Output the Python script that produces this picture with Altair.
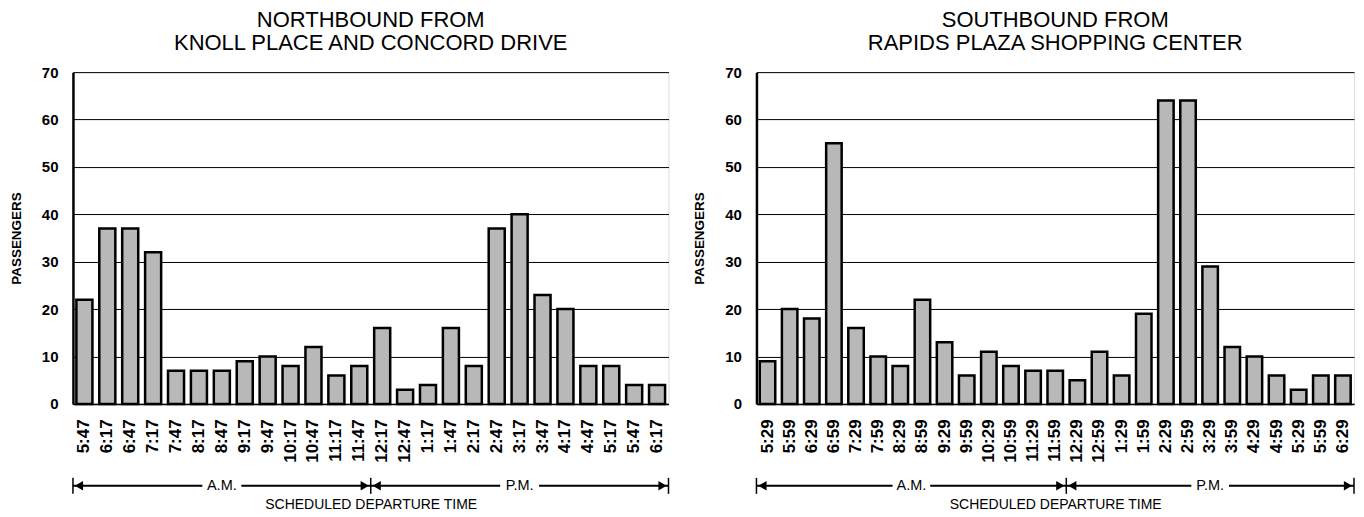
import altair as alt
import pandas as pd

# ---- data ----
north_title = ["NORTHBOUND FROM", "KNOLL PLACE AND CONCORD DRIVE"]
north_labels = ["5:47", "6:17", "6:47", "7:17", "7:47", "8:17", "8:47", "9:17", "9:47",
                "10:17", "10:47", "11:17", "11:47",
                "12:17", "12:47", "1:17", "1:47", "2:17", "2:47", "3:17", "3:47",
                "4:17", "4:47", "5:17", "5:47", "6:17"]
north_values = [22, 37, 37, 32, 7, 7, 7, 9, 10, 8, 12, 6, 8,
                16, 3, 4, 16, 8, 37, 40, 23, 20, 8, 8, 4, 4]
north_am_count = 13

south_title = ["SOUTHBOUND FROM", "RAPIDS PLAZA SHOPPING CENTER"]
south_labels = ["5:29", "5:59", "6:29", "6:59", "7:29", "7:59", "8:29", "8:59", "9:29",
                "9:59", "10:29", "10:59", "11:29", "11:59",
                "12:29", "12:59", "1:29", "1:59", "2:29", "2:59", "3:29", "3:59",
                "4:29", "4:59", "5:29", "5:59", "6:29"]
south_values = [9, 20, 18, 55, 16, 10, 8, 22, 13, 6, 11, 8, 7, 7,
                5, 11, 6, 19, 64, 64, 29, 12, 10, 6, 3, 6, 6]
south_am_count = 14

period_names = ["A.M.", "P.M."]
y_ticks = [0, 10, 20, 30, 40, 50, 60, 70]

FONT = "Liberation Sans"
H = 332
ARROW_Y = H + 82


def panel(title_lines, labels, values, n_am, width):
    n = len(labels)
    keys = [f"{i:02d}|{lab}" for i, lab in enumerate(labels)]
    bars_df = pd.DataFrame({"key": keys, "passengers": values})

    bars = alt.Chart(bars_df).mark_bar(
        fill="#b8b8b8", stroke="black", strokeWidth=2.5
    ).encode(
        x=alt.X("key:N", sort=keys,
                scale=alt.Scale(paddingInner=0.3, paddingOuter=0.15),
                axis=alt.Axis(title="SCHEDULED DEPARTURE TIME",
                              labelExpr="split(datum.label, '|')[1]",
                              labelAngle=270, labelFont=FONT, labelFontSize=17,
                              labelFontWeight="bold", labelColor="black",
                              labelPadding=15, ticks=False, domain=True,
                              domainColor="black", domainWidth=1.5, grid=False,
                              titleFont=FONT, titleFontSize=14,
                              titleFontWeight="normal", titleColor="black",
                              titlePadding=35)),
        y=alt.Y("passengers:Q", scale=alt.Scale(domain=[0, 70], nice=False),
                axis=alt.Axis(title="PASSENGERS", values=y_ticks,
                              labelFont=FONT, labelFontSize=15,
                              labelFontWeight="bold", labelColor="black",
                              labelPadding=15, ticks=False, domain=True,
                              domainColor="black", domainWidth=2.5,
                              grid=True, gridColor="black", gridWidth=1,
                              gridOpacity=1,
                              titleFont=FONT, titleFontSize=13.5,
                              titleFontWeight="bold", titleColor="black",
                              titlePadding=18)),
    )

    am_c = n_am / 2
    pm_c = (n_am + n) / 2
    g = 0.85
    seg_df = pd.DataFrame({"x": [0, am_c + g, n_am, pm_c + g],
                           "x2": [am_c - g, n_am, pm_c - g, n]})
    xs = alt.Scale(domain=[0, n], nice=False, zero=False)

    line = alt.Chart(seg_df).mark_rule(color="black", strokeWidth=2).encode(
        x=alt.X("x:Q", scale=xs, axis=None), x2="x2:Q", y=alt.value(ARROW_Y))

    stops_df = pd.DataFrame({"x": [0, n_am, n]})
    stops = alt.Chart(stops_df).mark_rule(color="black", strokeWidth=1.5).encode(
        x=alt.X("x:Q", scale=xs, axis=None),
        y=alt.value(ARROW_Y - 8), y2=alt.value(ARROW_Y + 8))

    left_df = pd.DataFrame({"x": [0, n_am]})
    left_heads = alt.Chart(left_df).mark_point(
        shape="triangle-left", filled=True, color="black", opacity=1,
        size=90, xOffset=6).encode(
        x=alt.X("x:Q", scale=xs, axis=None), y=alt.value(ARROW_Y))

    right_df = pd.DataFrame({"x": [n_am, n]})
    right_heads = alt.Chart(right_df).mark_point(
        shape="triangle-right", filled=True, color="black", opacity=1,
        size=90, xOffset=-6).encode(
        x=alt.X("x:Q", scale=xs, axis=None), y=alt.value(ARROW_Y))

    text_df = pd.DataFrame({"x": [am_c, pm_c], "t": period_names})
    texts = alt.Chart(text_df).mark_text(
        font=FONT, fontSize=14.5, color="black", baseline="middle").encode(
        x=alt.X("x:Q", scale=xs, axis=None), y=alt.value(ARROW_Y), text="t:N")

    ann = alt.layer(line, stops, left_heads, right_heads, texts)

    return alt.layer(bars, ann).resolve_scale(x="independent").properties(
        width=width, height=H,
        title=alt.TitleParams(title_lines, font=FONT, fontSize=22,
                              fontWeight="normal", color="black",
                              anchor="middle", lineHeight=23, offset=10))


left = panel(north_title, north_labels, north_values, north_am_count, 596)
right = panel(south_title, south_labels, south_values, south_am_count, 598)

chart = alt.hconcat(left, right, spacing=21).properties(
    padding={"left": 0, "top": 0, "right": 0, "bottom": 0}
).configure_view(
    stroke="black", strokeWidth=1.5).configure(background="white")

chart.save("out.html", embed_options={"renderer": "svg", "actions": False})
